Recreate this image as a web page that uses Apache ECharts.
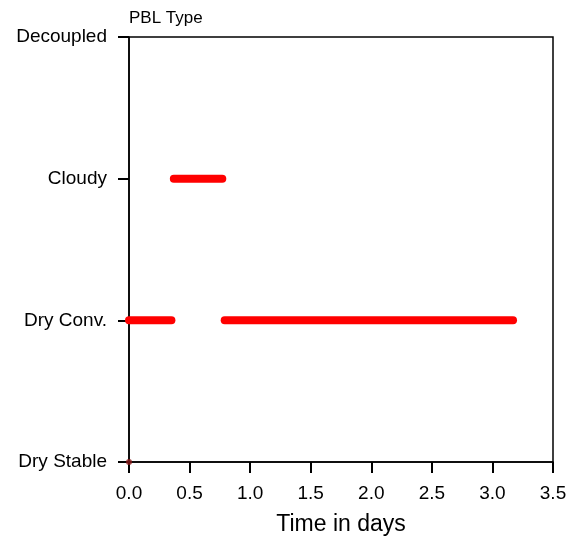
<!DOCTYPE html>
<html><head><meta charset="utf-8">
<script src="https://cdn.jsdelivr.net/npm/echarts@6/dist/echarts.min.js"></script>
<style>html,body{margin:0;padding:0;background:#fff}#c{width:566px;height:539px}</style>
</head><body><div id="c"></div>
<script>
const categories = ['Dry Stable', 'Dry Conv.', 'Cloudy', 'Decoupled'];
const segStart = [0.0, 0.37, 0.79];
const segEnd = [0.35, 0.77, 3.17];
const segState = ['Dry Conv.', 'Cloudy', 'Dry Conv.'];
const initPoint = [0.0, 'Dry Stable'];

const FONT = 'Liberation Sans';
const series = segStart.map((s, i) => ({
  type: 'line',
  data: [[s, segState[i]], [segEnd[i], segState[i]]],
  showSymbol: false,
  lineStyle: { color: '#ff0000', width: 8, cap: 'round' },
  silent: true, animation: false
}));
series.push({
  type: 'scatter', data: [initPoint], symbolSize: 6, z: 10,
  itemStyle: { color: '#8b1a1a' }, animation: false
});
const chart = echarts.init(document.getElementById('c'));
chart.setOption({
  backgroundColor: '#fff',
  animation: false,
  grid: { left: 129, right: 13, top: 37, bottom: 77, show: true, borderColor: '#000', borderWidth: 1.5, outerBoundsMode: 'none', containLabel: false },
  xAxis: {
    type: 'value', min: 0, max: 3.5, interval: 0.5,
    axisLine: { show: true, lineStyle: { color: '#000', width: 1.5 } },
    axisTick: { show: true, inside: false, length: 11, lineStyle: { color: '#000', width: 2 } },
    axisLabel: { color: '#000', fontFamily: FONT, fontSize: 19, margin: 22, formatter: v => v.toFixed(1) },
    splitLine: { show: false },
    name: 'Time in days', nameLocation: 'middle', nameGap: 51,
    nameTextStyle: { color: '#000', fontFamily: FONT, fontSize: 23 }
  },
  yAxis: {
    type: 'category', data: categories, boundaryGap: false,
    axisLine: { show: true, lineStyle: { color: '#000', width: 1.5 } },
    axisTick: { show: true, inside: false, length: 11, lineStyle: { color: '#000', width: 2 } },
    axisLabel: { color: '#000', fontFamily: FONT, fontSize: 19, margin: 22 },
    splitLine: { show: false },
    name: 'PBL Type', nameLocation: 'end', nameGap: 19,
    nameTextStyle: { color: '#000', fontFamily: FONT, fontSize: 17, align: 'left', verticalAlign: 'middle' }
  },
  series: series
});
</script></body></html>
